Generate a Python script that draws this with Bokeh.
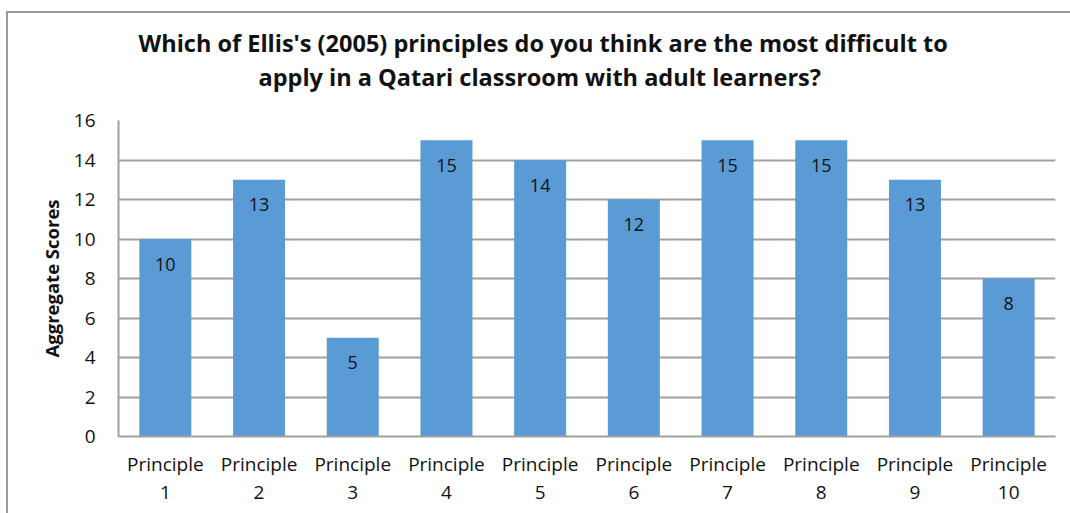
from bokeh.plotting import figure
from bokeh.models import ColumnDataSource, Title, FixedTicker, Range1d
from bokeh.core.properties import value
from bokeh.embed import file_html
from bokeh.resources import INLINE

categories = ["Principle 1", "Principle 2", "Principle 3", "Principle 4", "Principle 5",
              "Principle 6", "Principle 7", "Principle 8", "Principle 9", "Principle 10"]
scores = [10, 13, 5, 15, 14, 12, 15, 15, 13, 8]
y_ticks = [0, 2, 4, 6, 8, 10, 12, 14, 16]
title_lines = ["Which of Ellis's (2005) principles do you think are the most difficult to",
               "apply in a Qatari classroom with adult learners?"]
y_label = "Aggregate Scores"

FONT = "Open Sans"
GRID = "#a0a0a0"
TXT = "#111111"

pos = list(range(1, len(categories) + 1))
src = ColumnDataSource(dict(x=pos, score=scores, lbl=[str(v) for v in scores]))

p = figure(x_range=Range1d(0.5, len(categories) + 0.5), y_range=Range1d(0, 16),
           width=1070, height=513, output_backend="svg", toolbar_location=None,
           min_border_left=118, min_border_right=15, min_border_bottom=77, min_border_top=20)

p.vbar(x="x", top="score", width=0.555, source=src, fill_color="#5b9bd5", line_color=None)
p.text(x="x", y="score", text="lbl", source=src, text_align="center", text_baseline="middle",
       y_offset=25, text_font=value(FONT), text_font_size="18px", text_color=TXT)

# spacer between plot and title
p.add_layout(Title(text="\u00a0", text_font_size="1px", standoff=25), "above")
# title lines (bottom line first so it sits closest to the plot)
offsets = [140, 20]
for line, off in zip(reversed(title_lines), offsets):
    t = Title(text=line, align="left", text_font=FONT, text_font_size="23.5px",
              text_font_style="bold", text_color=TXT, offset=off, standoff=0)
    p.add_layout(t, "above")
# spacer above the title
p.add_layout(Title(text="\u00a0", text_font_size="1px", standoff=21), "above")

p.border_fill_color = None
p.styles = {"background": "linear-gradient(#999999,#999999) 6px 11px / 2px 600px no-repeat, "
                          "linear-gradient(#999999,#999999) 6px 11px / 1200px 2px no-repeat, white"}

p.outline_line_color = None
p.background_fill_color = "white"
p.xgrid.grid_line_color = None
p.ygrid.grid_line_color = GRID
p.ygrid.grid_line_width = 2
p.ygrid.ticker = FixedTicker(ticks=y_ticks)

p.yaxis.ticker = FixedTicker(ticks=y_ticks)
p.yaxis.axis_line_color = GRID
p.yaxis.axis_line_width = 2
p.yaxis.major_tick_line_color = None
p.yaxis.minor_tick_line_color = None
p.yaxis.major_label_text_font = FONT
p.yaxis.major_label_text_font_size = "19px"
p.yaxis.major_label_text_color = TXT
p.yaxis.major_label_standoff = 17
p.yaxis.axis_label = y_label
p.yaxis.axis_label_text_font = FONT
p.yaxis.axis_label_text_font_size = "18.5px"
p.yaxis.axis_label_text_font_style = "bold"
p.yaxis.axis_label_text_color = TXT
p.yaxis.axis_label_standoff = 7

p.xaxis.ticker = FixedTicker(ticks=pos)
p.xaxis.axis_line_color = GRID
p.xaxis.axis_line_width = 2
p.xaxis.major_tick_line_color = None
p.xaxis.minor_tick_line_color = None
p.xaxis.major_label_text_font = FONT
p.xaxis.major_label_text_font_size = "19px"
p.xaxis.major_label_text_color = TXT
p.xaxis.major_label_text_line_height = 1.1
p.xaxis.major_label_standoff = 8
p.xaxis.major_label_overrides = {i: c.replace(" ", "\n") for i, c in zip(pos, categories)}

open("out.html", "w").write(file_html(p, INLINE))
